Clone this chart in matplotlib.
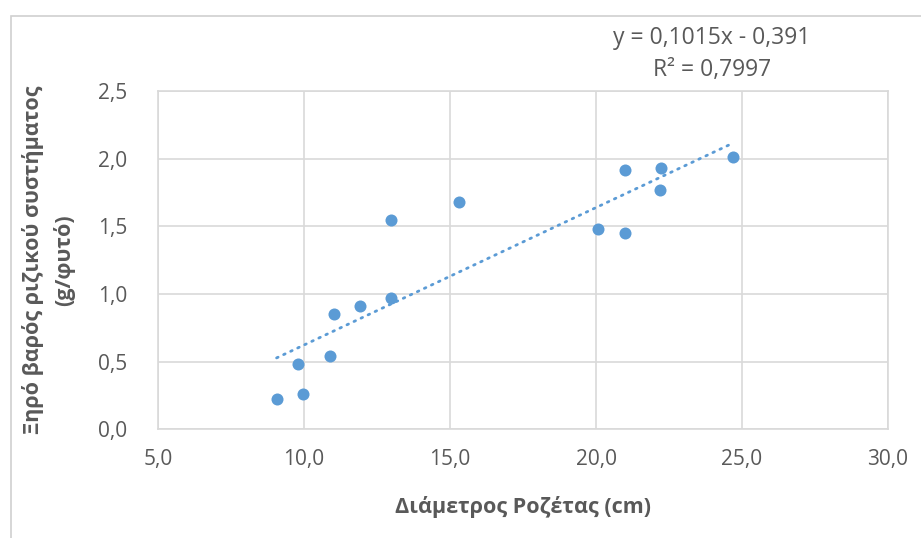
import matplotlib.pyplot as plt
from matplotlib.patches import Rectangle
from matplotlib.ticker import FuncFormatter

plt.rcParams["font.family"] = ["Open Sans", "DejaVu Sans"]

# rosette diameter (cm) vs dry root weight (g/plant)
diameter = [9.06, 9.98, 9.80, 10.89, 11.04, 11.92, 12.97, 12.97, 15.30,
            20.08, 21.00, 21.00, 22.23, 22.18, 24.68]
root_weight = [0.225, 0.26, 0.48, 0.54, 0.85, 0.91, 0.97, 1.55, 1.68,
               1.48, 1.45, 1.92, 1.93, 1.77, 2.01]
slope = 0.1015
intercept = -0.391
r2 = 0.7997

x_ticks = [5, 10, 15, 20, 25, 30]
y_ticks = [0, 0.5, 1.0, 1.5, 2.0, 2.5]

blue = "#5B9BD5"
grey_text = "#595959"
grid_col = "#D9D9D9"

fig = plt.figure(figsize=(9.21, 5.38), dpi=100)
ax = fig.add_axes([0.1716, 0.2017, 0.7926, 0.6292])

# outer chart border (runs off right/bottom edge)
fig.patches.append(Rectangle((11 / 921, -0.05), 1.1, 1 - 16 / 538 + 0.05,
                             transform=fig.transFigure, fill=False,
                             edgecolor="#D0D0D0", lw=1.2))

ax.scatter(diameter, root_weight, s=75, color=blue, zorder=3, linewidths=0)

x0, x1 = min(diameter), max(diameter)
ax.plot([x0, x1], [slope * x0 + intercept, slope * x1 + intercept],
        color=blue, lw=2.0, linestyle=(0, (0.6, 2.2)), dash_capstyle="round",
        zorder=2)

ax.set_xlim(5, 30)
ax.set_ylim(0, 2.5)
ax.set_xticks(x_ticks)
ax.set_yticks(y_ticks)
ax.xaxis.set_major_formatter(FuncFormatter(lambda v, p: f"{v:.1f}".replace(".", ",")))
ax.yaxis.set_major_formatter(FuncFormatter(lambda v, p: f"{v:.1f}".replace(".", ",")))
ax.grid(True, color=grid_col, lw=1.2)
ax.set_axisbelow(True)
for s in ax.spines.values():
    s.set_color(grid_col)
    s.set_linewidth(1.2)
ax.tick_params(length=0, labelsize=15, colors=grey_text, pad=14)
ax.tick_params(axis="y", pad=22)

ax.set_xlabel("Διάμετρος Ροζέτας (cm)", fontsize=15.5, fontweight="bold",
              color=grey_text, labelpad=19)
ax.set_ylabel("Ξηρό βαρός ριζικού συστήματος\n(g/φυτό)", fontsize=15.5,
              fontweight="bold", color=grey_text, linespacing=1.5)
ax.yaxis.set_label_coords(-0.114, 0.5)

fig.text(712 / 921, 1 - 38 / 538, f"y = {slope:.4f}x - {abs(intercept):.3f}".replace(".", ","),
         ha="center", va="center", fontsize=16.5, color=grey_text)
fig.text(712 / 921, 1 - 70 / 538, f"R² = {r2:.4f}".replace(".", ","),
         ha="center", va="center", fontsize=16.5, color=grey_text)

fig.savefig("out.png", dpi=100)
